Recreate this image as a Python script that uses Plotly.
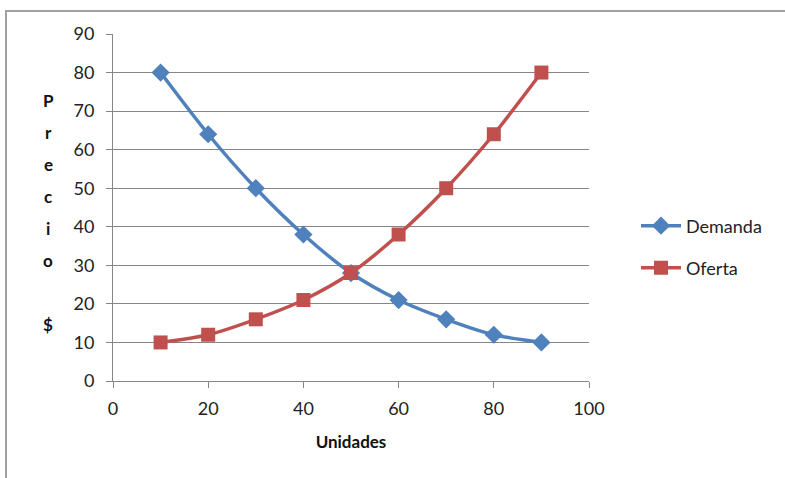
import plotly.graph_objects as go

unidades = [10, 20, 30, 40, 50, 60, 70, 80, 90]
demanda = [80, 64, 50, 38, 28, 21, 16, 12, 10]
oferta = [10, 12, 16, 21, 28, 38, 50, 64, 80]
y_title_letters = ["P", "r", "e", "c", "i", "o", "", "$"]

W, H = 785, 478
L, R, T, B = 113, 196, 34, 97
pw, ph = W - L - R, H - T - B

def px_x(p):
    return (p - L) / pw

def px_y(p):
    return (H - B - p) / ph

FONT = "Lato"
fig = go.Figure()
fig.add_trace(go.Scatter(
    x=unidades, y=demanda, name="Demanda", mode="lines+markers",
    line=dict(color="#4F81BD", width=3.5, shape="spline", smoothing=0.8),
    marker=dict(symbol="diamond", size=14, color="#4F81BD"),
    legend="legend", showlegend=True))
fig.add_trace(go.Scatter(
    x=unidades, y=oferta, name="Oferta", mode="lines+markers",
    line=dict(color="#C0504D", width=3.5, shape="spline", smoothing=0.8),
    marker=dict(symbol="square", size=14, color="#C0504D"),
    legend="legend2", showlegend=True))

axis_common = dict(
    showgrid=False, zeroline=False, showline=True, linecolor="#868686", linewidth=1,
    ticks="outside", ticklen=6, tickcolor="#868686",
    tickfont=dict(family=FONT, size=18, color="#222222"),
    automargin=False,
)
fig.update_xaxes(range=[0, 100], dtick=20, **axis_common, ticklabelstandoff=5,
                 title=dict(text="<b>Unidades</b>", font=dict(family=FONT, size=17, color="#111"), standoff=18))
fig.update_yaxes(range=[0, 90], dtick=10, **axis_common, ticklabelstandoff=8)
fig.update_yaxes(showgrid=True, gridcolor="#868686", gridwidth=1)

shapes = [dict(type="rect", xref="paper", yref="paper",
               x0=px_x(6), x1=px_x(800), y0=px_y(490), y1=px_y(11),
               line=dict(color="#A0A0A0", width=2), fillcolor="rgba(0,0,0,0)", layer="below")]
annotations = []
for i, ch in enumerate(y_title_letters):
    if not ch:
        continue
    annotations.append(dict(text="<b>%s</b>" % ch, xref="paper", yref="paper",
                            x=px_x(48), y=px_y(100 + i * 32), showarrow=False,
                            font=dict(family=FONT, size=17, color="#111"),
                            xanchor="center", yanchor="middle"))

leg_font = dict(family=FONT, size=18, color="#222222")
fig.update_layout(
    width=W, height=H, margin=dict(l=L, r=R, t=T, b=B, autoexpand=False),
    paper_bgcolor="white", plot_bgcolor="white", showlegend=True,
    shapes=shapes, annotations=annotations,
    legend=dict(x=px_x(636), y=px_y(226), xanchor="left", yanchor="middle", font=leg_font,
                bgcolor="rgba(0,0,0,0)", itemwidth=40),
    legend2=dict(x=px_x(636), y=px_y(268), xanchor="left", yanchor="middle", font=leg_font,
                 bgcolor="rgba(0,0,0,0)", itemwidth=40, visible=True),
)
fig.write_html("out.html", config={"displayModeBar": False},
               post_script="document.body.style.margin='0px';")
